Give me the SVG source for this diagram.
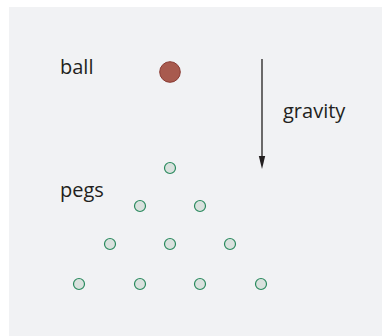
<svg xmlns="http://www.w3.org/2000/svg" width="382" height="336" viewBox="0 0 382 336">
  <style>
    .label { font-family: "Open Sans", "Liberation Sans", Arial, sans-serif; font-size: 20px; fill: #231f20; }
    .peg { fill: #d9e1dd; stroke: #2a8a5e; stroke-width: 1.2; }
    .ball { fill: #a85a4e; stroke: #8a3b33; stroke-width: 1; }
    .arrow-line { stroke: #231f20; stroke-width: 1.3; }
    .arrow-head { fill: #231f20; }
  </style>
  <rect x="0" y="0" width="382" height="336" fill="#ffffff"/>
  <rect x="9" y="7" width="373" height="329" fill="#f1f2f4"/>

  <g id="ball">
    <circle class="ball" cx="170" cy="72" r="10.3"/>
    <text class="label" x="60" y="74">ball</text>
  </g>

  <g id="gravity-label">
    <text class="label" x="283" y="118">gravity</text>
  </g>

  <g id="pegs">
    <text class="label" x="60" y="197">pegs</text>
    <circle class="peg" cx="170" cy="168" r="5.5"/>
    <circle class="peg" cx="140" cy="206" r="5.5"/>
    <circle class="peg" cx="200" cy="206" r="5.5"/>
    <circle class="peg" cx="110" cy="244" r="5.5"/>
    <circle class="peg" cx="170" cy="244" r="5.5"/>
    <circle class="peg" cx="230" cy="244" r="5.5"/>
    <circle class="peg" cx="79" cy="284" r="5.5"/>
    <circle class="peg" cx="140" cy="284" r="5.5"/>
    <circle class="peg" cx="200" cy="284" r="5.5"/>
    <circle class="peg" cx="261" cy="284" r="5.5"/>
  </g>

  <g id="connectors">
    <line class="arrow-line" x1="262" y1="59" x2="262" y2="158"/>
    <path class="arrow-head" d="M258.8,156 L265.2,156 L262,169 Z"/>
  </g>
</svg>
